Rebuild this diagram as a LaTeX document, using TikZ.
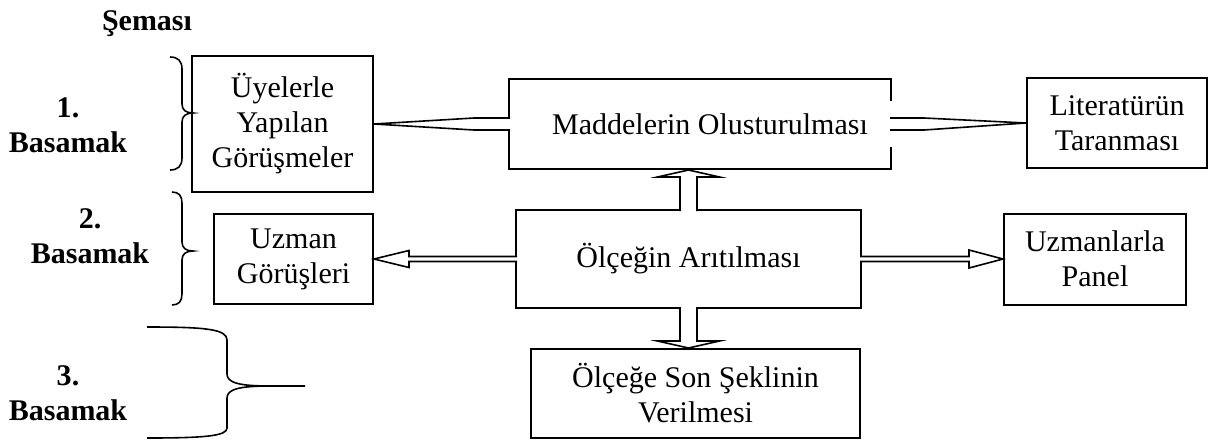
\documentclass[tikz,border=0pt]{standalone}
\usepackage{fontspec}
\setmainfont{Liberation Serif}
\usetikzlibrary{calc}

\tikzset{
  box/.style={draw, line width=1pt, align=center, inner sep=0pt, font=\fontsize{15}{17.5}\selectfont},
  steplabel/.style={align=center, inner sep=0pt, font=\fontsize{15}{17.5}\selectfont\bfseries},
  blockarrow/.style={draw, fill=white, line width=0.8pt, line join=miter},
  bracket/.style={line width=0.8pt}
}

\begin{document}
\begin{tikzpicture}[x=0.5pt,y=0.5pt,yscale=-1]
\path[use as bounding box] (0,0) rectangle (1210,440);

%Shape: Rectangle
\node[box, minimum width=90.5pt, minimum height=68pt] (uye) at (282.5,124) {Üyelerle\\Yapılan\\Görüşmeler};
%Shape: Rectangle
\node[box, minimum width=191pt, minimum height=45pt] (mad) at (700,124) {\hspace*{10pt}Maddelerin Olusturulması};
%Shape: Rectangle
\node[box, minimum width=90pt, minimum height=45pt] (lit) at (1117,123) {Literatürün\\Taranması};
%Shape: Rectangle
\node[box, minimum width=172.5pt, minimum height=49pt] (ol) at (688.5,259) {Ölçeğin Arıtılması};
%Shape: Rectangle
\node[box, minimum width=79.5pt, minimum height=45pt] (uz) at (293.5,259) {Uzman\\Görüşleri};
%Shape: Rectangle
\node[box, minimum width=91pt, minimum height=45.5pt] (uzp) at (1095,259) {Uzmanlarla\\Panel};
%Shape: Rectangle
\node[box, minimum width=164.5pt, minimum height=44.5pt] (son) at (695.5,393.5) {Ölçeğe Son Şeklinin\\Verilmesi};

%Shape: Left Arrow
\draw[blockarrow] ($(mad.west)+(2,-6)$) -- ($(mad.west)+(-34,-6)$) -- (uye.east) -- ($(mad.west)+(-34,6)$) -- ($(mad.west)+(2,6)$);
%Shape: Right Arrow
\fill[white] ($(mad.east)+(-2,-23)$) rectangle ($(mad.east)+(2,23)$);
\draw[blockarrow] ($(mad.east)+(-2,-6)$) -- ($(mad.east)+(32,-6)$) -- (lit.west) -- ($(mad.east)+(32,6)$) -- ($(mad.east)+(-2,6)$);
%Shape: Up Arrow
\draw[blockarrow] ($(ol.north)+(-8.5,2)$) -- ($(ol.north)+(-8.5,-32)$) -- ($(ol.north)+(-31,-32)$) -- (ol.north |- mad.south) -- ($(ol.north)+(31,-32)$) -- ($(ol.north)+(8.5,-32)$) -- ($(ol.north)+(8.5,2)$);
%Shape: Down Arrow
\draw[blockarrow] ($(ol.south)+(-8.5,-2)$) -- ($(ol.south)+(-8.5,32)$) -- ($(ol.south)+(-31,32)$) -- (ol.south |- son.north) -- ($(ol.south)+(31,32)$) -- ($(ol.south)+(8.5,32)$) -- ($(ol.south)+(8.5,-2)$);
%Shape: Left Arrow
\draw[blockarrow] ($(ol.west)+(2,-2.5)$) -- ($(uz.east)+(35,-2.5)$) -- ($(uz.east)+(35,-8.5)$) -- (uz.east) -- ($(uz.east)+(35,8.5)$) -- ($(uz.east)+(35,2.5)$) -- ($(ol.west)+(2,2.5)$);
%Shape: Right Arrow
\draw[blockarrow] ($(ol.east)+(-2,-2.5)$) -- ($(uzp.west)+(-34,-2.5)$) -- ($(uzp.west)+(-34,-9)$) -- (uzp.west) -- ($(uzp.west)+(-34,9)$) -- ($(uzp.west)+(-34,2.5)$) -- ($(ol.east)+(-2,2.5)$);

%Shape: Right Brace
\draw[bracket] (170,57) .. controls (178,57) and (182,61) .. (182,69) -- (182,104) .. controls (182,110) and (186,113) .. (193,113) .. controls (186,113) and (182,116) .. (182,122) -- (182,158) .. controls (182,166) and (178,170) .. (170,170);
%Shape: Right Brace
\draw[bracket] (172,192) .. controls (179,192) and (182,196) .. (182,203) -- (182,242) .. controls (182,248) and (186,251) .. (193,251) .. controls (186,251) and (182,254) .. (182,260) -- (182,294) .. controls (182,301) and (179,305) .. (172,305);
%Shape: Right Brace
\draw[bracket] (147,327) .. controls (205,327) and (227,329) .. (227,340) -- (227,374) .. controls (227,383) and (240,386) .. (270,386) -- (305,386) (270,386) .. controls (240,386) and (227,389) .. (227,398) -- (227,428) .. controls (227,436) and (205,438) .. (147,438);

% Text Node
\node[steplabel] (sema) at (147,24) {Şeması};
% Text Node
\node[steplabel] (bas1) at (68,125) {1.\\Basamak};
% Text Node
\node[steplabel] (bas2) at (90,236) {2.\\Basamak};
% Text Node
\node[steplabel] (bas3) at (68,393) {3.\\Basamak};

\end{tikzpicture}
\end{document}
